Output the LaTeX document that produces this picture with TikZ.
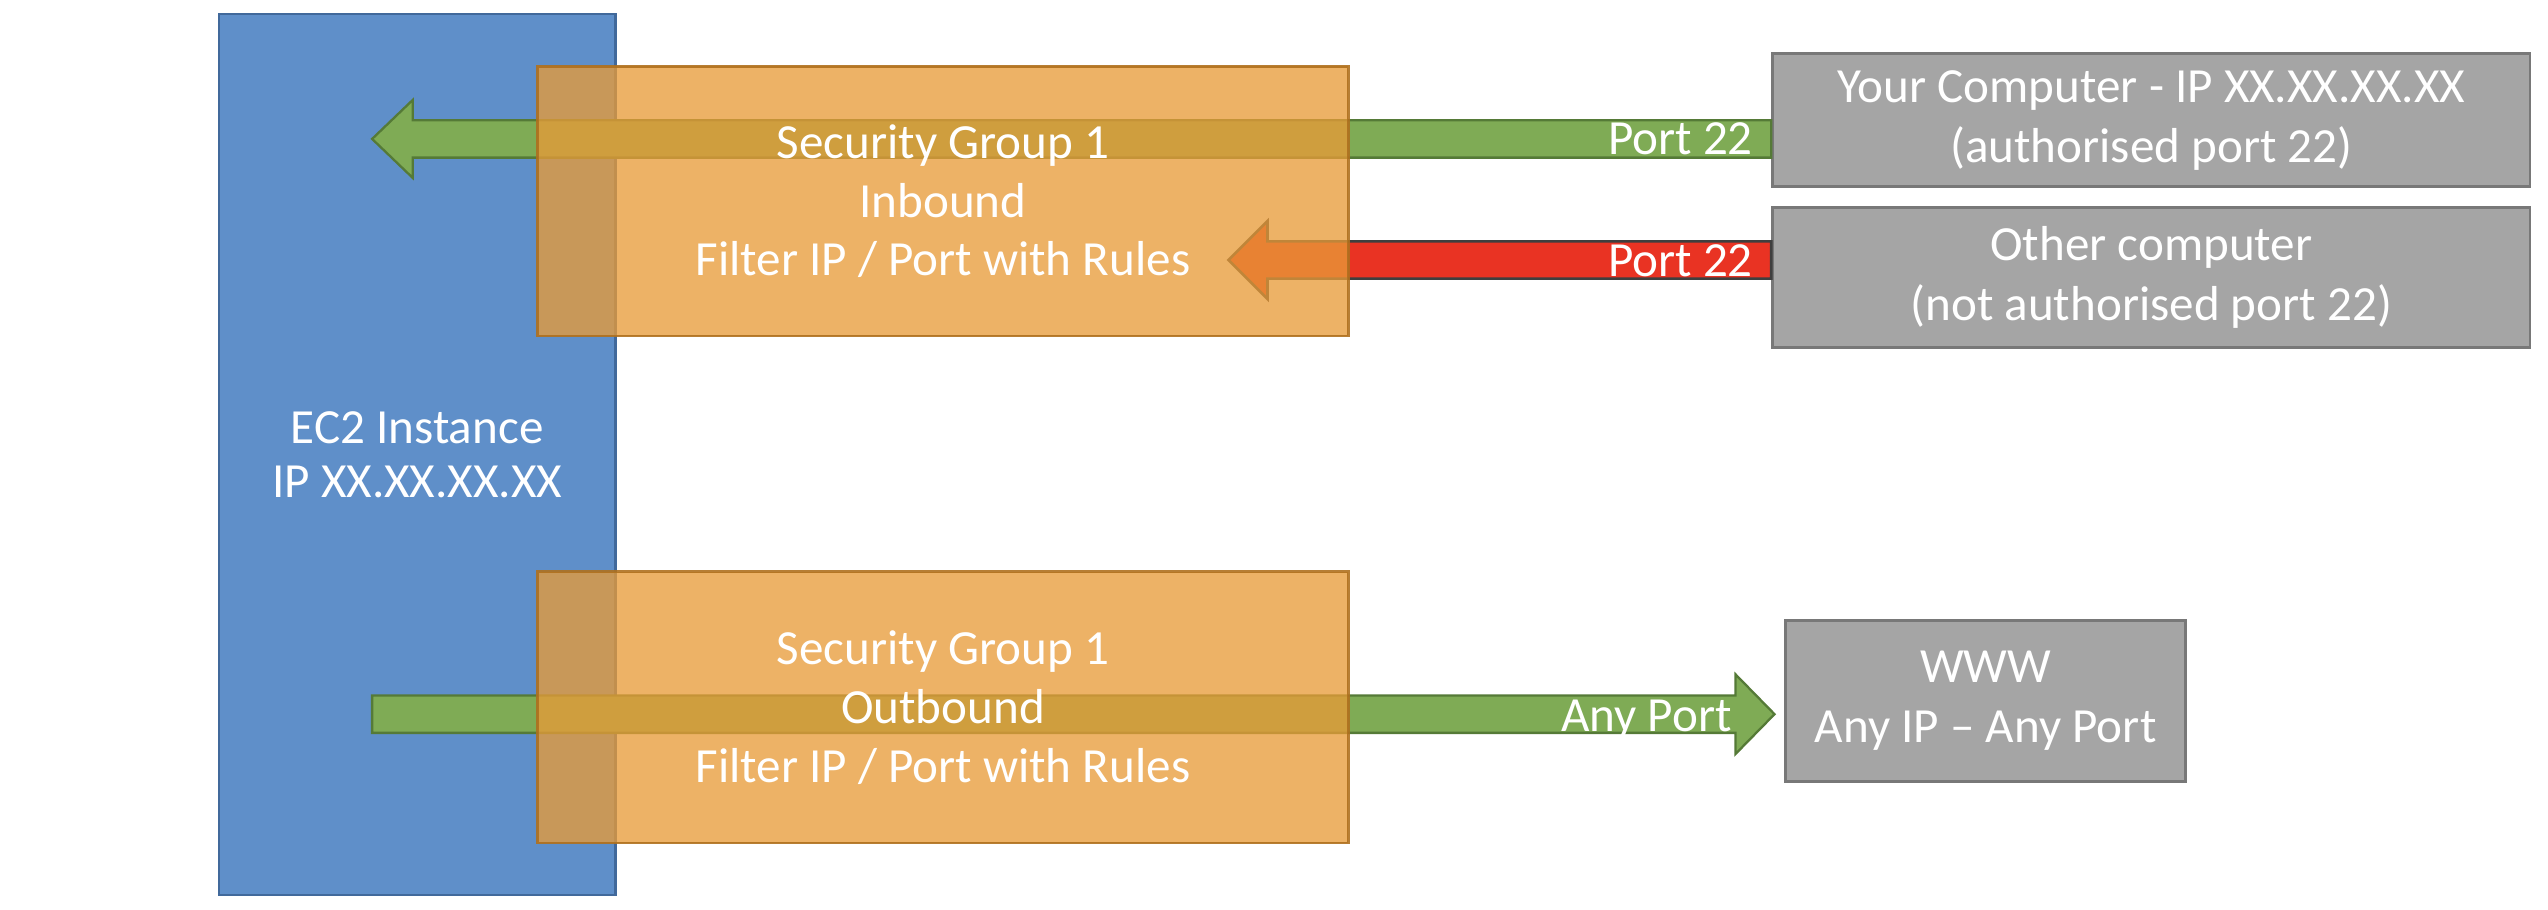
\documentclass[tikz,border=0pt]{standalone}
\usepackage{fontspec}
\setmainfont{Carlito}
\usetikzlibrary{calc}
\definecolor{ecblue}{RGB}{95,143,201}
\definecolor{ecblueline}{RGB}{65,105,155}
\definecolor{sgfill}{RGB}{232,155,56}
\definecolor{sgline}{RGB}{175,112,30}
\definecolor{okgreen}{RGB}{127,171,85}
\definecolor{okgreenline}{RGB}{85,122,55}
\definecolor{nored}{RGB}{233,51,35}
\definecolor{noredline}{RGB}{63,63,63}
\definecolor{hostgray}{RGB}{165,165,165}
\definecolor{hostline}{RGB}{120,120,120}
\begin{document}
\begin{tikzpicture}[x=0.02cm,y=-0.02cm,
  txt/.style={font=\fontsize{17.2}{20.6}\selectfont, text=white, align=center, inner sep=0pt},
  ec2box/.style={txt, font=\fontsize{17.2}{18.9}\selectfont, draw=ecblueline, fill=ecblue, line width=0.8pt},
  sgbox/.style={txt, draw=sgline, fill=sgfill, fill opacity=0.77, draw opacity=0.9, text opacity=1, line width=0.9pt},
  hostbox/.style={txt, font=\fontsize{17.2}{21}\selectfont, draw=hostline, fill=hostgray, line width=1pt},
  okarrow/.style={fill=okgreen, draw=okgreenline, line width=0.8pt, line join=miter},
  noarrow/.style={fill=nored, draw=noredline, line width=0.9pt, line join=miter},
  lbl/.style={txt}
]
\useasboundingbox (0,0) rectangle (1568,560);
% EC2 instance
\node[ec2box, minimum width=244*0.02cm, minimum height=542*0.02cm, anchor=north west] (ec2) at (134,8) {EC2 Instance\\IP XX.XX.XX.XX};
% hosts
\node[hostbox, minimum width=466*0.02cm, minimum height=82*0.02cm, anchor=north west] (yc) at (1090,32) {Your Computer - IP XX.XX.XX.XX\\(authorised port 22)};
\node[hostbox, minimum width=466*0.02cm, minimum height=86*0.02cm, anchor=north west] (oc) at (1090,127) {Other computer\\(not authorised port 22)};
\node[hostbox, minimum width=246*0.02cm, minimum height=99*0.02cm, anchor=north west] (www) at (1098,381) {WWW\\Any IP -- Any Port};
% arrow end points
\coordinate (t1) at (229,85.5);
\coordinate (t2) at (756,160);
\coordinate (s3) at (229,439.5);
\coordinate (t3) at (1092,439.5);
% inbound authorised (green, leftwards)
\draw[okarrow] ($(yc.west |- t1)+(0,-11.5)$) -- ($(t1)+(25,-11.5)$) -- ($(t1)+(25,-24)$) -- (t1)
  -- ($(t1)+(25,24)$) -- ($(t1)+(25,11.5)$) -- ($(yc.west |- t1)+(0,11.5)$) -- cycle;
% inbound refused (red, leftwards)
\draw[noarrow] ($(oc.west |- t2)+(0,-11.5)$) -- ($(t2)+(24,-11.5)$) -- ($(t2)+(24,-24)$) -- (t2)
  -- ($(t2)+(24,24)$) -- ($(t2)+(24,11.5)$) -- ($(oc.west |- t2)+(0,11.5)$) -- cycle;
% outbound (green, rightwards)
\draw[okarrow] ($(s3)+(0,-11.5)$) -- ($(t3)+(-24,-11.5)$) -- ($(t3)+(-24,-24.5)$) -- (t3)
  -- ($(t3)+(-24,24.5)$) -- ($(t3)+(-24,11.5)$) -- ($(s3)+(0,11.5)$) -- cycle;
% security groups
\node[sgbox, minimum width=499*0.02cm, minimum height=166*0.02cm, anchor=north west] (sgin) at (330,40) {Security Group 1\\Inbound\\Filter IP / Port with Rules};
\node[sgbox, minimum width=499*0.02cm, minimum height=167*0.02cm, anchor=north west] (sgout) at (330,351) {Security Group 1\\Outbound\\Filter IP / Port with Rules};
% labels
\node[lbl, anchor=base east] (l1) at (1079,95) {Port 22};
\node[lbl, anchor=base east] (l2) at (1079,170) {Port 22};
\node[lbl, anchor=base east] (l3) at (1066,450) {Any Port};
\end{tikzpicture}
\end{document}
